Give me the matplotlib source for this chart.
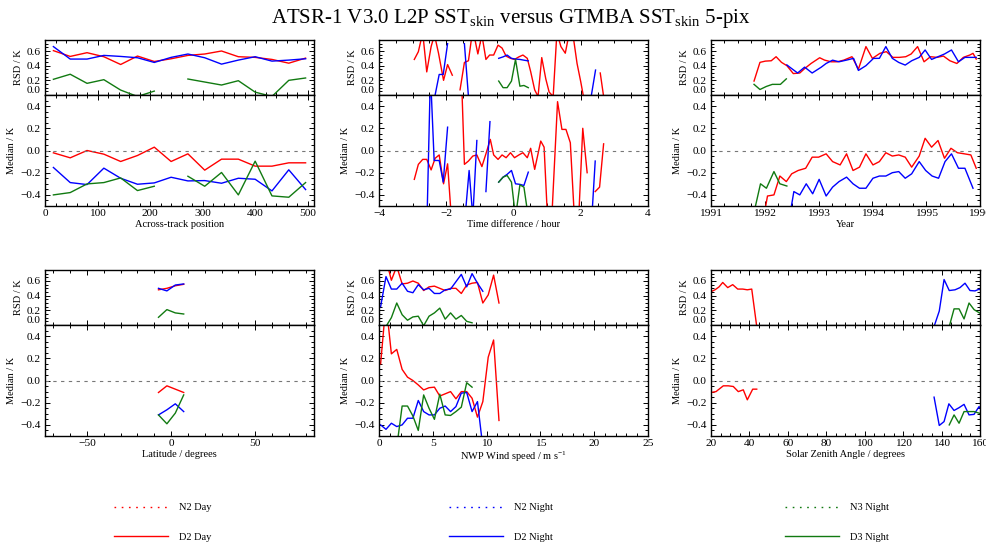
import numpy as np
import matplotlib
matplotlib.use("Agg")
import matplotlib.pyplot as plt
from matplotlib.lines import Line2D
from matplotlib.ticker import MultipleLocator, AutoMinorLocator

nan = np.nan

plt.rcParams['font.family'] = 'serif'
plt.rcParams['font.serif'] = ['Liberation Serif', 'DejaVu Serif']
plt.rcParams['mathtext.fontset'] = 'custom'
plt.rcParams['mathtext.rm'] = 'Liberation Serif'
plt.rcParams['mathtext.it'] = 'Liberation Serif:italic'

RED = '#ff0000'
BLUE = '#0000ff'
GREEN = '#117a11'

# ====== across-track position ======
track_x = [16, 48, 80, 112, 144, 176, 208, 240, 272, 304, 336, 368, 400, 432, 464, 496]
track_rsd_d2_day = [0.605, 0.526, 0.577, 0.522, 0.416, 0.531, 0.457, 0.494, 0.540, 0.559, 0.600, 0.522, 0.513, 0.485, 0.434, 0.503]
track_rsd_d2_night = [0.66, 0.49, 0.49, 0.54, 0.526, 0.508, 0.444, 0.513, 0.559, 0.508, 0.421, 0.476, 0.522, 0.462, 0.476, 0.494]
track_rsd_d3_night = [0.214, 0.283, 0.159, 0.209, 0.067, -0.02, 0.053, nan, 0.218, 0.177, 0.136, 0.195, 0.039, -0.02, 0.2, 0.232]
track_med_d2_day = [-0.021, -0.066, 0.0, -0.033, -0.099, -0.045, 0.03, -0.099, -0.03, -0.177, -0.078, -0.078, -0.141, -0.141, -0.111, -0.111]
track_med_d2_night = [-0.153, -0.289, -0.307, -0.159, -0.25, -0.304, -0.292, -0.241, -0.274, -0.271, -0.295, -0.25, -0.259, -0.364, -0.174, -0.352]
track_med_d3_night = [-0.4, -0.379, -0.301, -0.289, -0.247, -0.361, -0.322, nan, -0.232, -0.322, -0.198, -0.4, -0.096, -0.409, -0.421, -0.289]

# ====== time difference ======
time_rsd_d2_day_x = [-2.95, -2.83, -2.70, -2.58, -2.45, -2.35, -2.23, -2.08, -1.96, -1.82, -1.70,
                     -1.59, -1.46, -1.34, -1.21, -1.06, -0.94, -0.82, -0.71, -0.59, -0.46, -0.34, -0.22,
                     -0.09, 0.03, 0.16, 0.28, 0.41, 0.51, 0.63, 0.73, 0.84, 0.96, 1.06, 1.18, 1.29, 1.41,
                     1.54, 1.66, 1.76, 1.89, 2.00, 2.08, 2.30, 2.58, 2.68]
time_rsd_d2_day = [0.485, 0.59, 0.85, 0.315, 0.66, 0.82, 0.57, 0.2, 0.415, 0.27, nan,
                   0.071, 0.444, 0.467, 0.9, 0.56, 0.82, 0.485, 0.545, 0.545, 0.68, 0.64, 0.53,
                   0.5, 0.485, 0.52, 0.545, 0.5, 0.32, 0.07, -0.02, 0.51, 0.22, 0.04, -0.02, 0.85, 0.66,
                   0.57, 0.85, 0.85, 0.43, 0.18, -0.02, nan, 0.30, -0.02]
time_med_d2_day_x = [-2.95, -2.83, -2.70, -2.58, -2.45, -2.33, -2.21, -2.08, -1.96, -1.85, -1.70,
                     -1.54, -1.46, -1.34, -1.21, -1.09, -0.94, -0.82, -0.69, -0.59, -0.46, -0.34, -0.22,
                     -0.09, 0.03, 0.16, 0.28, 0.41, 0.51, 0.63, 0.81, 0.91, 1.01, 1.14, 1.31, 1.44, 1.56,
                     1.69, 1.81, 1.94, 2.06, 2.19, 2.30, 2.43, 2.56, 2.68]
time_med_d2_day = [-0.26, -0.125, -0.08, -0.08, -0.175, -0.07, -0.04, -0.30, -0.12, -0.6, nan,
                   0.6, -0.125, -0.095, -0.05, -0.04, -0.145, -0.03, 0.10, -0.04, -0.08, -0.04, -0.065,
                   -0.02, -0.065, -0.04, -0.02, -0.065, 0.02, -0.17, 0.085, 0.03, -0.6, -0.6, 0.44, 0.19, 0.19,
                   0.07, -0.6, -0.6, 0.20, -0.20, nan, -0.37, -0.33, 0.06]
time_rsd_d2_night_x = [-2.34, -2.21, -2.09, -1.96, -1.70, -1.46, -1.34, -0.90,
                       -0.44, -0.31, -0.19, -0.06, 0.06, 0.19, 0.31, 0.44, 1.40, 2.31, 2.44]
time_rsd_d2_night = [-0.02, 0.28, 0.28, 0.70, nan, 0.70, -0.02, nan,
                     0.5, 0.52, 0.545, 0.5, 0.49, 0.485, 0.475, 0.465, nan, -0.02, 0.34]
time_med_d2_night_x = [-2.57, -2.47, -2.36, -2.21, -2.09, -1.96, -1.70, -1.44, -1.32, -1.21, -1.09, -0.95,
                       -0.82, -0.70, -0.57, -0.44, -0.31, -0.19, -0.06, 0.06, 0.19, 0.31, 0.44, 1.40, 2.33, 2.43]
time_med_d2_night = [-0.6, 0.7, -0.09, -0.09, -0.285, 0.21, nan, -0.6, -0.18, -0.6, 0.09, nan,
                     -0.37, 0.26, nan, -0.285, -0.24, -0.215, -0.18, -0.30, -0.305, -0.315, -0.195, nan, -0.6, -0.095]
time_d3_x = [-0.44, -0.31, -0.19, -0.06, 0.06, 0.19, 0.31, 0.44]
time_rsd_d3_night = [0.19, 0.10, 0.10, 0.19, 0.485, 0.12, 0.13, 0.10]
time_med_d3_night = [-0.285, -0.24, -0.225, -0.285, -0.6, -0.31, -0.33, -0.6]

# ====== year ======
year_rsd_d2_day_x = [1991.80, 1991.91, 1992.01, 1992.12, 1992.21, 1992.31, 1992.41, 1992.53, 1992.65, 1992.74,
                     1992.86, 1993.02, 1993.11, 1993.23, 1993.35, 1993.47, 1993.62, 1993.74, 1993.88, 1994.00,
                     1994.14, 1994.26, 1994.38, 1994.50, 1994.62, 1994.72, 1994.84, 1994.96, 1995.08, 1995.20,
                     1995.32, 1995.44, 1995.57, 1995.69, 1995.81, 1995.87, 1995.93]
year_rsd_d2_day = [0.19, 0.445, 0.462, 0.467, 0.522, 0.445, 0.40, 0.292, 0.30, 0.36,
                   0.43, 0.508, 0.476, 0.453, 0.453, 0.476, 0.522, 0.352, 0.66, 0.499,
                   0.568, 0.591, 0.513, 0.513, 0.522, 0.559, 0.66, 0.453, 0.522, 0.513,
                   0.531, 0.467, 0.430, 0.513, 0.545, 0.568, 0.49]
year_rsd_d2_night_x = [1992.41, 1992.50, 1992.61, 1992.74, 1992.88, 1993.05, 1993.14, 1993.26, 1993.38, 1993.52,
                       1993.65, 1993.74, 1993.88, 1994.02, 1994.13, 1994.25, 1994.37, 1994.49, 1994.61, 1994.73,
                       1994.87, 1994.98, 1995.10, 1995.22, 1995.34, 1995.47, 1995.60, 1995.72, 1995.84, 1995.93]
year_rsd_d2_night = [0.41, 0.36, 0.30, 0.38, 0.30, 0.38, 0.43, 0.475, 0.453, 0.476,
                     0.50, 0.335, 0.40, 0.499, 0.50, 0.66, 0.50, 0.444, 0.408, 0.467,
                     0.513, 0.614, 0.485, 0.522, 0.559, 0.614, 0.453, 0.513, 0.513, 0.513]
year_rsd_d3_night_x = [1991.80, 1991.91, 1992.03, 1992.14, 1992.29, 1992.40]
year_rsd_d3_night = [0.145, 0.075, 0.117, 0.145, 0.145, 0.22]
year_med_d2_day_x = [1991.98, 1992.05, 1992.17, 1992.28, 1992.40, 1992.50, 1992.62, 1992.76, 1992.88, 1993.00,
                     1993.14, 1993.26, 1993.40, 1993.52, 1993.64, 1993.76, 1993.88, 1994.01, 1994.13, 1994.25,
                     1994.37, 1994.49, 1994.61, 1994.73, 1994.87, 1994.98, 1995.10, 1995.22, 1995.34, 1995.46,
                     1995.58, 1995.71, 1995.83, 1995.93]
year_med_d2_day = [-0.6, -0.41, -0.40, -0.23, -0.28, -0.21, -0.18, -0.16, -0.06, -0.06,
                   -0.03, -0.10, -0.13, -0.03, -0.18, -0.15, -0.03, -0.13, -0.10, -0.02,
                   -0.05, -0.04, -0.06, -0.15, -0.05, 0.11, 0.03, 0.09, -0.07, 0.02,
                   -0.02, -0.03, -0.04, -0.16]
year_med_d2_night_x = [1992.46, 1992.54, 1992.65, 1992.77, 1992.89, 1993.01, 1993.14, 1993.26, 1993.38, 1993.52,
                       1993.64, 1993.76, 1993.88, 1994.01, 1994.13, 1994.25, 1994.37, 1994.49, 1994.61, 1994.73,
                       1994.87, 1994.99, 1995.11, 1995.23, 1995.35, 1995.47, 1995.60, 1995.72, 1995.87]
year_med_d2_night = [-0.6, -0.37, -0.40, -0.30, -0.39, -0.26, -0.41, -0.33, -0.28, -0.24,
                     -0.30, -0.34, -0.34, -0.25, -0.23, -0.23, -0.20, -0.19, -0.25, -0.21,
                     -0.10, -0.18, -0.23, -0.25, -0.10, -0.03, -0.16, -0.16, -0.34]
year_med_d3_night_x = [1991.78, 1991.92, 1992.03, 1992.17, 1992.28, 1992.41]
year_med_d3_night = [-0.6, -0.30, -0.34, -0.19, -0.30, -0.32]

# ====== latitude ======
lat_x = [-7.5, -2.5, 2.5, 7.5]
lat_rsd_d2_day = [0.48, 0.50, 0.535, 0.555]
lat_rsd_d2_night = [0.50, 0.465, 0.545, 0.56]
lat_rsd_d3_night = [0.105, 0.21, 0.165, 0.15]
lat_med_d2_day = [-0.108, -0.048, -0.078, -0.108]
lat_med_d2_night = [-0.31, -0.264, -0.21, -0.28]
lat_med_d3_night = [-0.31, -0.39, -0.294, -0.13]

# ====== NWP wind speed ======
wind_x = [0.15, 0.65, 1.15, 1.65, 2.15, 2.65, 3.15, 3.65, 4.15, 4.65, 5.15, 5.65,
          6.15, 6.65, 7.15, 7.65, 8.15, 8.65, 9.15, 9.65, 10.15, 10.65, 11.15]
wind_rsd_d2_day = [0.85, 0.9, 0.61, 0.8, 0.56, 0.57, 0.6, 0.57, 0.47, 0.52, 0.53, 0.5,
                   0.47, 0.5, 0.5, 0.43, 0.545, 0.57, 0.58, 0.3, 0.41, 0.68, 0.3]
wind_med_d2_day = [0.15, 0.7, 0.24, 0.28, 0.10, 0.03, 0.0, -0.04, -0.085, -0.065, -0.06, -0.14,
                   -0.12, -0.10, -0.165, -0.10, -0.10, -0.16, -0.33, -0.19, 0.21, 0.365, -0.36]
wind_night_x = [0.15, 0.65, 1.15, 1.65, 2.15, 2.65, 3.15, 3.65, 4.15, 4.65,
                5.15, 5.65, 6.15, 6.65, 7.15, 7.65, 8.15, 8.65, 9.15, 9.65]
wind_rsd_d2_night = [0.25, 0.66, 0.49, 0.49, 0.57, 0.46, 0.44, 0.55, 0.48, 0.50,
                     0.43, 0.43, 0.48, 0.49, 0.59, 0.69, 0.52, 0.70, 0.57, 0.46]
wind_med_d2_night = [-0.40, -0.44, -0.385, -0.415, -0.40, -0.34, -0.34, -0.18, -0.28, -0.31,
                     -0.31, -0.25, -0.23, -0.28, -0.235, -0.114, -0.108, -0.28, -0.19, -0.6]
wind_d3_rsd_x = [0.65, 1.15, 1.65, 2.15, 2.65, 3.15, 3.65, 4.15, 4.65, 5.15, 5.65, 6.15, 6.65, 7.15, 7.65, 8.15, 8.65]
wind_rsd_d3_night = [-0.02, 0.1, 0.3, 0.14, 0.065, 0.11, 0.12, -0.01, 0.12, 0.165, 0.23, 0.08, 0.165, 0.08, 0.13, 0.05, 0.03]
wind_d3_med_x = [1.65, 2.15, 2.65, 3.15, 3.65, 4.15, 4.65, 5.15, 5.65, 6.15, 6.65, 7.15, 7.65, 8.15, 8.65]
wind_med_d3_night = [-0.6, -0.23, -0.23, -0.32, -0.45, -0.13, -0.25, -0.35, -0.123, -0.31, -0.315, -0.28, -0.24, -0.02, -0.06]

# ====== solar zenith angle ======
sza_rsd_d2_day_x = [20.0, 22.1, 24.2, 26.1, 28.7, 31.3, 33.9, 36.5, 38.9, 41.2, 43.8]
sza_rsd_d2_day = [0.455, 0.48, 0.52, 0.58, 0.51, 0.55, 0.49, 0.49, 0.48, 0.49, -0.02]
sza_med_d2_day_x = [20.0, 22.6, 26.4, 29.0, 31.6, 34.2, 36.8, 38.9, 41.7, 43.8]
sza_med_d2_day = [-0.108, -0.10, -0.048, -0.048, -0.054, -0.10, -0.084, -0.174, -0.078, -0.078]
sza_rsd_d2_night_x = [136.1, 138.8, 141.3, 144.0, 147.0, 149.6, 152.2, 154.8, 157.4, 159.7, 162.0]
sza_rsd_d2_night = [-0.02, 0.19, 0.62, 0.47, 0.48, 0.51, 0.57, 0.47, 0.465, 0.49, 0.44]
sza_med_d2_night_x = [136.1, 138.8, 141.3, 143.8, 146.5, 149.1, 151.7, 154.3, 156.9, 159.5, 162.0]
sza_med_d2_night = [-0.15, -0.405, -0.37, -0.21, -0.27, -0.245, -0.215, -0.31, -0.305, -0.235, -0.3]
sza_d3_x = [144.0, 146.5, 149.1, 151.7, 154.3, 156.9, 159.7, 162.0]
sza_rsd_d3_night = [-0.02, 0.22, 0.22, 0.083, 0.30, 0.21, 0.165, 0.14]
sza_med_d3_night = [-0.40, -0.31, -0.385, -0.28, -0.28, -0.28, -0.295, -0.30]


# ====== figure ======
W, H = 987, 544
fig = plt.figure(figsize=(W / 100, H / 100), dpi=100)

FS = 7.5      # axis labels / legend
TFS = 8.2     # tick labels
LW = 1.0


def style_axis(ax, xmaj, xmin_n, ymaj, ymin_n):
    ax.xaxis.set_major_locator(MultipleLocator(xmaj))
    ax.xaxis.set_minor_locator(AutoMinorLocator(xmin_n))
    ax.yaxis.set_major_locator(MultipleLocator(ymaj))
    ax.yaxis.set_minor_locator(AutoMinorLocator(ymin_n))
    ax.tick_params(which='both', direction='in', top=True, right=True,
                   labelsize=TFS, width=0.7)
    ax.tick_params(which='major', length=3.8)
    ax.tick_params(which='minor', length=2.0)
    ax.tick_params(axis='x', pad=2.5)
    ax.tick_params(axis='y', pad=3)
    for s in ax.spines.values():
        s.set_linewidth(1.0)


def make_panel(left, rsd_top_px, xlim, xmaj, xmin_n, xlabel, rsd_lines, med_lines, xfmt=None):
    width = 269 / W
    rsd_h = 55 / H
    med_h = 111 / H
    rsd_bottom = (H - rsd_top_px - 55) / H
    med_bottom = rsd_bottom - med_h
    ax_r = fig.add_axes([left / W, rsd_bottom, width, rsd_h])
    ax_m = fig.add_axes([left / W, med_bottom, width, med_h], sharex=ax_r)

    for x, y, c in rsd_lines:
        ax_r.plot(x, y, color=c, lw=LW)
    for x, y, c in med_lines:
        ax_m.plot(x, y, color=c, lw=LW)
    ax_m.axhline(0, color='#777777', lw=0.8, ls=(0, (3, 4)))

    ax_r.set_xlim(*xlim)
    ax_r.set_ylim(0.0, 0.75)
    ax_m.set_ylim(-0.5, 0.5)
    style_axis(ax_r, xmaj, xmin_n, 0.2, 4)
    style_axis(ax_m, xmaj, xmin_n, 0.2, 4)
    ax_r.set_yticks([0.0, 0.2, 0.4, 0.6])
    ax_r.yaxis.set_major_formatter('{x:.1f}')
    ax_m.yaxis.set_major_formatter('{x:.1f}')
    ax_r.tick_params(labelbottom=False)
    if xfmt is not None:
        ax_m.xaxis.set_major_formatter(xfmt)
    # the 0.0 label sits a little above the bottom edge
    ax_r.yaxis.get_major_ticks()[0].label1.set_verticalalignment('bottom')

    ax_r.set_ylabel('RSD / K', fontsize=FS, labelpad=3)
    ax_m.set_ylabel('Median / K', fontsize=FS, labelpad=3)
    ax_m.set_xlabel(xlabel, fontsize=FS, labelpad=1)
    return ax_r, ax_m


make_panel(45, 40, (0, 512), 100, 5, 'Across-track position',
           [(track_x, track_rsd_d2_day, RED), (track_x, track_rsd_d2_night, BLUE),
            (track_x, track_rsd_d3_night, GREEN)],
           [(track_x, track_med_d2_day, RED), (track_x, track_med_d2_night, BLUE),
            (track_x, track_med_d3_night, GREEN)])

make_panel(379, 40, (-4, 4), 2, 4, 'Time difference / hour',
           [(time_rsd_d2_day_x, time_rsd_d2_day, RED), (time_rsd_d2_night_x, time_rsd_d2_night, BLUE),
            (time_d3_x, time_rsd_d3_night, GREEN)],
           [(time_med_d2_day_x, time_med_d2_day, RED), (time_med_d2_night_x, time_med_d2_night, BLUE),
            (time_d3_x, time_med_d3_night, GREEN)],
           xfmt='{x:.0f}')

make_panel(711, 40, (1991, 1996), 1, 4, 'Year',
           [(year_rsd_d2_day_x, year_rsd_d2_day, RED), (year_rsd_d2_night_x, year_rsd_d2_night, BLUE),
            (year_rsd_d3_night_x, year_rsd_d3_night, GREEN)],
           [(year_med_d2_day_x, year_med_d2_day, RED), (year_med_d2_night_x, year_med_d2_night, BLUE),
            (year_med_d3_night_x, year_med_d3_night, GREEN)],
           xfmt='{x:.0f}')

make_panel(45, 270, (-75, 85), 50, 5, 'Latitude / degrees',
           [(lat_x, lat_rsd_d2_day, RED), (lat_x, lat_rsd_d2_night, BLUE), (lat_x, lat_rsd_d3_night, GREEN)],
           [(lat_x, lat_med_d2_day, RED), (lat_x, lat_med_d2_night, BLUE), (lat_x, lat_med_d3_night, GREEN)],
           xfmt='{x:.0f}')

make_panel(379, 270, (0, 25), 5, 5, 'NWP Wind speed / m s$^{-1}$',
           [(wind_x, wind_rsd_d2_day, RED), (wind_night_x, wind_rsd_d2_night, BLUE),
            (wind_d3_rsd_x, wind_rsd_d3_night, GREEN)],
           [(wind_x, wind_med_d2_day, RED), (wind_night_x, wind_med_d2_night, BLUE),
            (wind_d3_med_x, wind_med_d3_night, GREEN)],
           xfmt='{x:.0f}')

make_panel(711, 270, (20, 160), 20, 4, 'Solar Zenith Angle / degrees',
           [(sza_rsd_d2_day_x, sza_rsd_d2_day, RED), (sza_rsd_d2_night_x, sza_rsd_d2_night, BLUE),
            (sza_d3_x, sza_rsd_d3_night, GREEN)],
           [(sza_med_d2_day_x, sza_med_d2_day, RED), (sza_med_d2_night_x, sza_med_d2_night, BLUE),
            (sza_d3_x, sza_med_d3_night, GREEN)],
           xfmt='{x:.0f}')

# title
fig.text(0.518, 1 - 18 / H,
         'ATSR-1 V3.0 L2P SST$_{\\rm skin}$ versus GTMBA SST$_{\\rm skin}$ 5-pix',
         ha='center', va='center', fontsize=15)

# legends
legend_sets = [
    (114, [('N2 Day', RED, (0, (1.2, 4))), ('D2 Day', RED, '-')]),
    (449, [('N2 Night', BLUE, (0, (1.2, 4))), ('D2 Night', BLUE, '-')]),
    (785, [('N3 Night', GREEN, (0, (1.2, 4))), ('D3 Night', GREEN, '-')]),
]
for xpx, entries in legend_sets:
    handles = [Line2D([], [], color=c, ls=ls, lw=LW, label=lab) for lab, c, ls in entries]
    fig.legend(handles=handles, loc='upper left', bbox_to_anchor=(xpx / W, 1 - 503 / H),
               frameon=False, fontsize=FS, handlelength=5.2, handletextpad=1.0,
               labelspacing=1.95, borderaxespad=0, borderpad=0)

fig.savefig('out.png', dpi=100)
